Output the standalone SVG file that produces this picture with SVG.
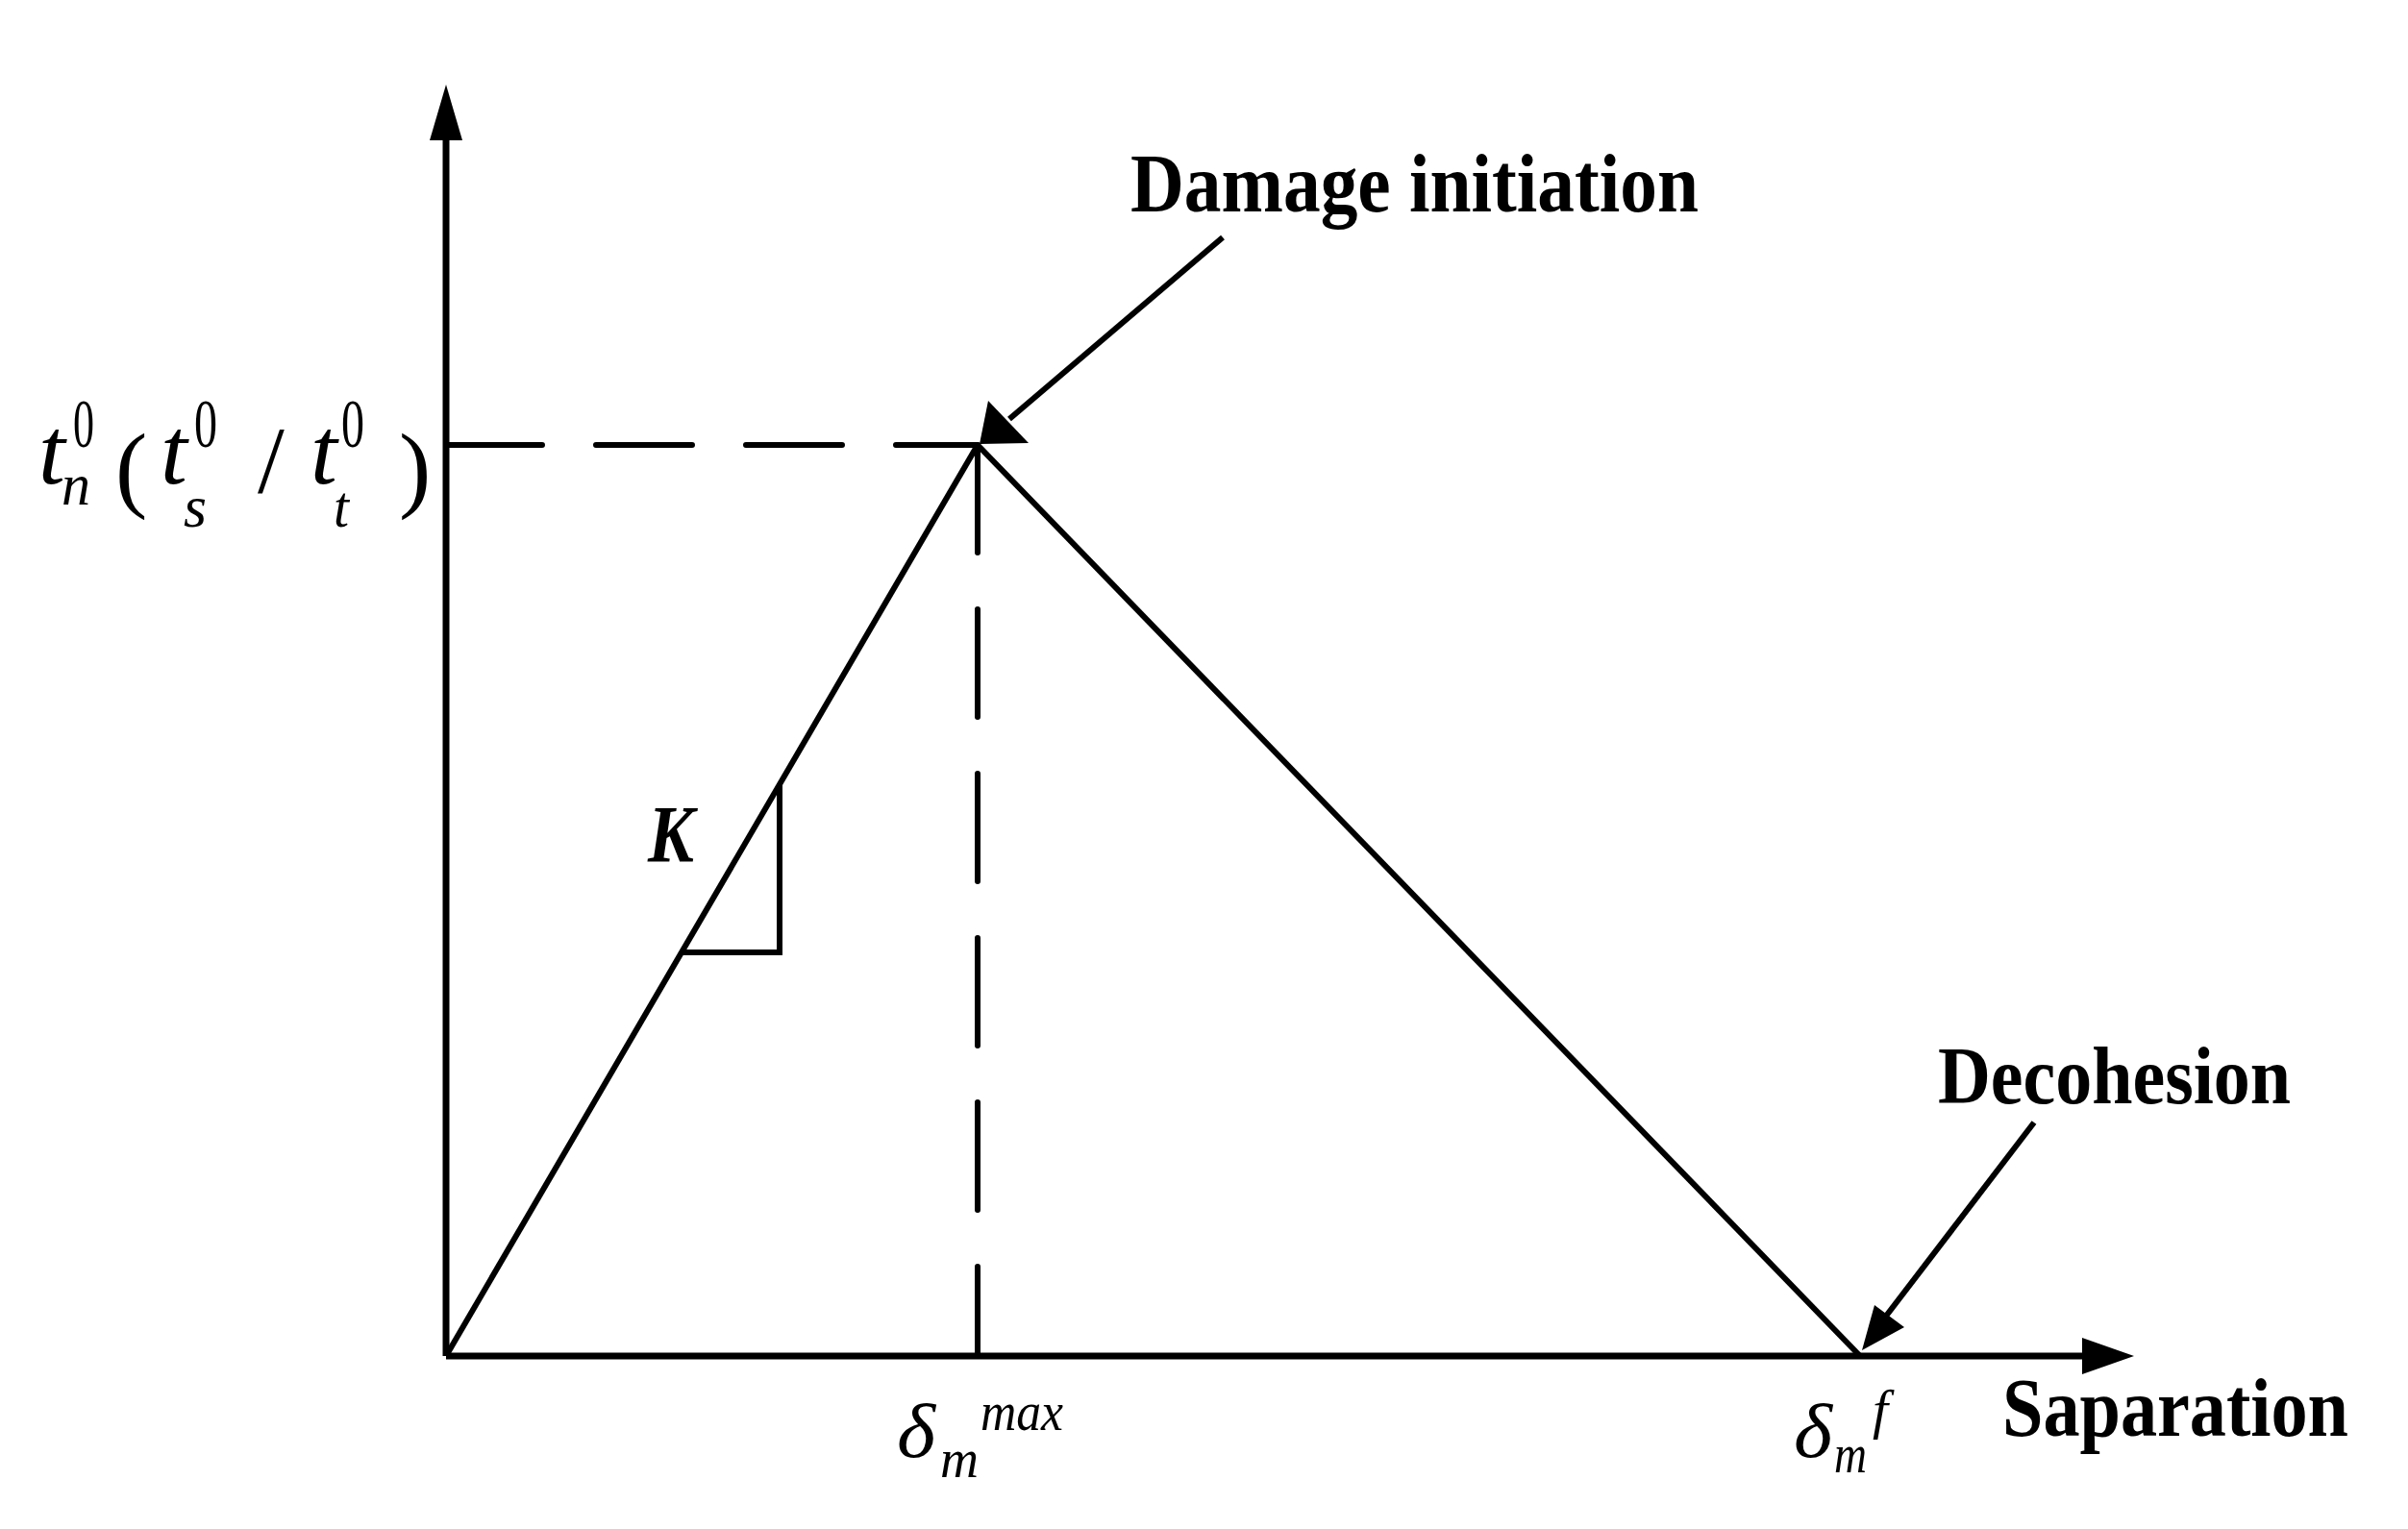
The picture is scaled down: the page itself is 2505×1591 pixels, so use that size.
<svg xmlns="http://www.w3.org/2000/svg" width="2505" height="1591" viewBox="0 0 2505 1591">
<style>
.ln{stroke:#000;stroke-width:6;fill:none}
.ax{stroke:#000;stroke-width:7;fill:none}
.dash{stroke:#000;stroke-width:6;fill:none;stroke-linecap:round}
.b{font-family:"Liberation Serif",serif;font-weight:bold;fill:#000}
.i{font-family:"Liberation Serif",serif;font-style:italic;fill:#000}
.r{font-family:"Liberation Serif",serif;font-style:normal;fill:#000}
</style>
<rect width="2505" height="1591" fill="#fff"/>
<g id="connectors">
<line class="ax" x1="464" y1="1411" x2="464" y2="140"/>
<polygon points="464,88 447,146 481,146"/>
<line class="ax" x1="464" y1="1411" x2="2170" y2="1411"/>
<polygon points="2220,1411 2166,1392 2166,1430"/>
<line class="ln" x1="464" y1="1411" x2="1017" y2="463"/>
<line class="ln" x1="1017" y1="463" x2="1935" y2="1411"/>
<polyline class="ln" points="709,991 811,991 811,816"/>
<line class="dash" x1="464" y1="463" x2="1017" y2="463" stroke-dasharray="100 56"/>
<line class="dash" x1="1017" y1="463" x2="1017" y2="1408" stroke-dasharray="112 59"/>
<line class="ln" x1="1272" y1="247" x2="1050" y2="436"/>
<polygon points="1019,462 1028,417 1070,461"/>
<line class="ln" x1="2116" y1="1168" x2="1960" y2="1372"/>
<polygon points="1937,1405 1950,1358 1981,1381"/>
</g>
<g id="label-damage"><text class="b" x="1176" y="220" font-size="86" textLength="591" lengthAdjust="spacingAndGlyphs">Damage initiation</text></g>
<g id="label-decohesion"><text class="b" x="2016" y="1148" font-size="84" textLength="367" lengthAdjust="spacingAndGlyphs">Decohesion</text></g>
<g id="label-saparation"><text class="b" x="2083" y="1494" font-size="86" textLength="360" lengthAdjust="spacingAndGlyphs">Saparation</text></g>
<g id="label-K"><text class="b" x="674" y="897" font-size="84" font-style="italic" textLength="48" lengthAdjust="spacingAndGlyphs">K</text></g>
<g id="label-t">
<text class="i" x="40" y="503" font-size="100">t</text>
<text class="r" x="76" y="465" font-size="72" textLength="22" lengthAdjust="spacingAndGlyphs">0</text>
<text class="i" x="64" y="525" font-size="62" textLength="30" lengthAdjust="spacingAndGlyphs">n</text>
<text class="r" x="120" y="520" font-size="100">(</text>
<text class="i" x="167" y="503" font-size="100">t</text>
<text class="r" x="202" y="465" font-size="72" textLength="24" lengthAdjust="spacingAndGlyphs">0</text>
<text class="i" x="191" y="548" font-size="62" textLength="24" lengthAdjust="spacingAndGlyphs">s</text>
<text class="r" x="268" y="512" font-size="100">/</text>
<text class="i" x="323" y="503" font-size="100">t</text>
<text class="r" x="355" y="465" font-size="72" textLength="24" lengthAdjust="spacingAndGlyphs">0</text>
<text class="i" x="347" y="548" font-size="62" textLength="16" lengthAdjust="spacingAndGlyphs">t</text>
<text class="r" x="415" y="520" font-size="100">)</text>
</g>
<g id="label-dmax">
<text class="i" x="933" y="1516" font-size="80" textLength="40" lengthAdjust="spacingAndGlyphs">δ</text>
<text class="i" x="978" y="1537" font-size="56" textLength="40" lengthAdjust="spacingAndGlyphs">m</text>
<text class="i" x="1020" y="1488" font-size="56" textLength="86" lengthAdjust="spacingAndGlyphs">max</text>
</g>
<g id="label-df">
<text class="i" x="1866" y="1516" font-size="80" textLength="40" lengthAdjust="spacingAndGlyphs">δ</text>
<text class="i" x="1908" y="1532" font-size="56" textLength="34" lengthAdjust="spacingAndGlyphs">m</text>
<text class="i" x="1948" y="1486" font-size="56" textLength="16" lengthAdjust="spacingAndGlyphs">f</text>
</g>
</svg>
